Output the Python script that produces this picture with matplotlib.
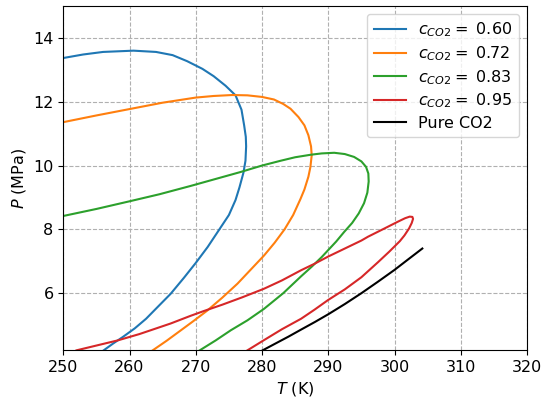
import numpy as np
import matplotlib.pyplot as plt

# phase envelopes (T in K, P in MPa)
T_060 = [250.0, 253.0, 256.0, 260.6, 264.0, 266.5, 268.7, 271.0, 272.7, 274.5,
         276.0, 276.9, 277.3, 277.55, 277.6, 277.5, 277.2, 276.6, 276.0, 275.0,
         273.4, 271.8, 270.0, 268.2, 266.2, 264.3, 262.5, 260.8, 259.0, 257.5,
         256.1]
P_060 = [13.37, 13.48, 13.56, 13.60, 13.56, 13.46, 13.27, 13.03, 12.80, 12.50,
         12.20, 11.75, 11.26, 10.90, 10.60, 10.15, 9.78, 9.32, 8.92, 8.45,
         7.95, 7.45, 6.95, 6.48, 5.98, 5.58, 5.20, 4.90, 4.63, 4.42,
         4.21]

T_072 = [250.0, 255.0, 260.0, 265.0, 270.0, 272.7, 275.5, 277.8, 280.0, 281.8,
         283.2, 284.3, 285.5, 286.4, 287.0, 287.4, 287.5, 287.3, 287.0, 286.4,
         285.8, 284.7, 283.4, 281.9, 280.3, 278.3, 276.3, 274.0, 271.7, 269.6,
         267.7, 265.6, 263.5]
P_072 = [11.36, 11.57, 11.77, 11.97, 12.13, 12.18, 12.21, 12.20, 12.15, 12.07,
         11.93, 11.78, 11.52, 11.26, 10.95, 10.60, 10.32, 9.95, 9.65, 9.25,
         8.95, 8.45, 8.00, 7.58, 7.18, 6.74, 6.30, 5.86, 5.45, 5.12,
         4.83, 4.51, 4.21]

T_083 = [250.0, 255.0, 260.0, 264.5, 269.2, 273.0, 276.8, 280.0, 282.8, 285.0,
         287.4, 289.0, 290.9, 292.5, 293.9, 295.0, 295.7, 296.05, 296.1, 295.9,
         295.4, 294.6, 293.6, 292.4, 291.2, 289.0, 287.5, 285.9, 283.2, 280.3,
         277.8, 275.3, 273.0, 270.6]
P_083 = [8.42, 8.64, 8.88, 9.10, 9.36, 9.58, 9.80, 10.00, 10.15, 10.26,
         10.34, 10.38, 10.40, 10.36, 10.27, 10.13, 9.96, 9.75, 9.50, 9.15,
         8.82, 8.50, 8.20, 7.92, 7.62, 7.13, 6.83, 6.53, 6.00, 5.51,
         5.15, 4.84, 4.52, 4.21]

T_095 = [252.0, 255.0, 258.2, 261.5, 266.2, 269.2, 271.2, 274.0, 277.0, 280.3,
         283.0, 285.9, 287.9, 290.0, 293.0, 295.0, 296.0, 298.5, 300.5, 301.6,
         302.3, 302.7, 302.8, 302.6, 302.2, 301.5, 300.8, 299.2, 297.5, 295.0,
         292.5, 290.0, 287.9, 285.9, 283.0, 280.3, 277.8]
P_095 = [4.21, 4.36, 4.52, 4.72, 5.05, 5.29, 5.44, 5.64, 5.87, 6.14,
         6.40, 6.72, 6.92, 7.15, 7.45, 7.65, 7.77, 8.03, 8.24, 8.35,
         8.40, 8.39, 8.33, 8.20, 8.03, 7.81, 7.63, 7.30, 6.97, 6.50,
         6.12, 5.79, 5.48, 5.20, 4.87, 4.53, 4.21]

T_pure = [280.1, 282.0, 284.0, 285.9, 288.0, 290.0, 292.5, 295.0, 297.5, 300.0, 302.0, 304.2]
P_pure = [4.21, 4.42, 4.64, 4.86, 5.10, 5.34, 5.66, 6.00, 6.36, 6.73, 7.05, 7.40]

fractions = ['0.60', '0.72', '0.83', '0.95']
envelopes = [(T_060, P_060), (T_072, P_072), (T_083, P_083), (T_095, P_095)]


def main():
    plt.rcParams['font.size'] = 11.5
    fig = plt.figure(figsize=(5.42, 3.99), dpi=100)
    ax = fig.add_axes([0.1168, 0.1228, 0.8555, 0.8622])

    for frac, (T, P) in zip(fractions, envelopes):
        ax.plot(T, P, label=r'$c_{CO2}=$ ' + frac)
    ax.plot(T_pure, P_pure, color='black', label='Pure CO2')

    ax.set_xlim(250, 320)
    ax.set_ylim(4.22, 15)
    ax.set_xlabel(r'$T$ (K)')
    ax.set_ylabel(r'$P$ (MPa)')
    ax.grid(True, linestyle='--')
    ax.legend(loc='upper right', labelspacing=0.32)
    fig.savefig('out.png', dpi=100)


if __name__ == '__main__':
    main()
